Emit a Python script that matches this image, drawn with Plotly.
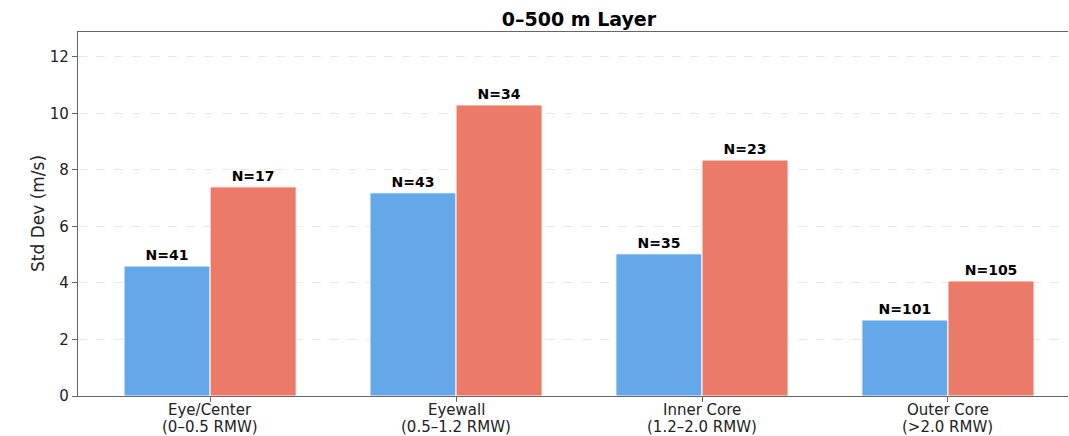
import plotly.graph_objects as go

cat_line1 = ["Eye/Center", "Eyewall", "Inner Core", "Outer Core"]
cat_line2 = ["(0–0.5 RMW)", "(0.5–1.2 RMW)", "(1.2–2.0 RMW)", "(>2.0 RMW)"]
series_a = [4.60, 7.19, 5.03, 2.69]
series_b = [7.40, 10.30, 8.35, 4.07]
n_a = [41, 43, 35, 101]
n_b = [17, 34, 23, 105]
yticks = [0, 2, 4, 6, 8, 10, 12]

xs = list(range(len(cat_line1)))
w = 0.35
H = 436
T, B = 32, 40

fig = go.Figure()
fig.add_trace(go.Bar(
    x=[x - w / 2 for x in xs], y=series_a, width=w,
    marker=dict(color="#64A8EA", line=dict(color="white", width=1)),
    text=[f"<b>N={n}</b>" for n in n_a], textposition="outside",
    textfont=dict(size=14, color="black", family="DejaVu Sans"),
    cliponaxis=False, showlegend=False))
fig.add_trace(go.Bar(
    x=[x + w / 2 for x in xs], y=series_b, width=w,
    marker=dict(color="#EB7B68", line=dict(color="white", width=1)),
    text=[f"<b>N={n}</b>" for n in n_b], textposition="outside",
    textfont=dict(size=14, color="black", family="DejaVu Sans"),
    cliponaxis=False, showlegend=False))

annotations = []
for x, l1, l2 in zip(xs, cat_line1, cat_line2):
    annotations.append(dict(x=x, xref="x", y=0, yref="paper", text=l1,
                            showarrow=False, yanchor="middle", yshift=-14,
                            font=dict(size=15, color="#222")))
    annotations.append(dict(x=x, xref="x", y=0, yref="paper", text=l2,
                            showarrow=False, yanchor="middle", yshift=-31,
                            font=dict(size=15, color="#222")))
annotations.append(dict(x=0, xref="paper", xshift=38 - 78, y=0.5, yref="paper",
                        text="Std Dev (m/s)", showarrow=False, textangle=-90,
                        xanchor="center", yanchor="middle",
                        font=dict(size=17, color="#222")))

fig.update_layout(
    width=1069, height=H,
    margin=dict(l=78, r=1, t=T, b=B, autoexpand=False),
    plot_bgcolor="white", paper_bgcolor="white",
    font=dict(family="DejaVu Sans", size=15, color="#222"),
    title=dict(text="<b>0–500 m Layer</b>", x=0.506, xanchor="center",
               xref="paper", y=1 - 19 / H, yref="container", yanchor="middle",
               font=dict(size=19, color="black")),
    barmode="overlay",
    annotations=annotations,
    xaxis=dict(range=[-0.537, 3.488], tickmode="array", tickvals=xs,
               ticktext=["" for _ in xs], showgrid=False, zeroline=False,
               showline=True, linecolor="#666", linewidth=1.2, mirror=True,
               ticks="outside", ticklen=5, tickcolor="#666", automargin=False),
    yaxis=dict(range=[0, 12.88], tickvals=yticks, showgrid=True,
               gridcolor="#e8e8e8", griddash="dash", gridwidth=1,
               zeroline=False, showline=True, linecolor="#666",
               linewidth=1.2, mirror=False, ticks="outside", ticklen=5,
               tickcolor="#666", tickfont=dict(size=15), automargin=False),
)

fig.write_html("out.html", config={"displayModeBar": False},
               post_script="document.body.style.margin='0';document.body.style.overflow='hidden';")
